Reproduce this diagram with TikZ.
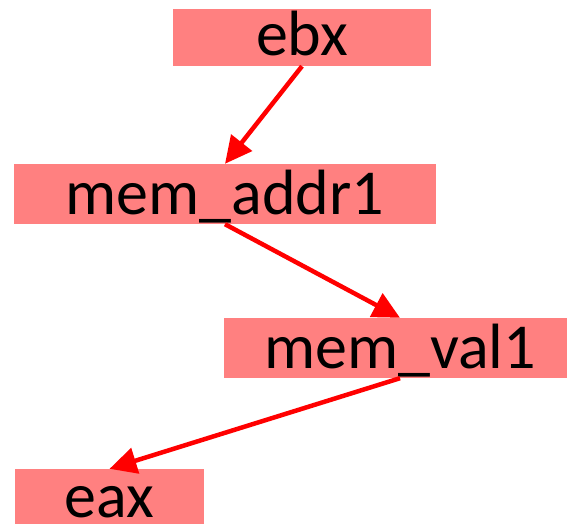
\documentclass[tikz,border=0pt]{standalone}
\usepackage{fontspec}
\setmainfont{Carlito}
\usetikzlibrary{arrows.meta}
\definecolor{boxfill}{RGB}{255,128,128}
\definecolor{flow}{RGB}{255,0,0}
\tikzset{
  reg/.style={fill=boxfill, inner sep=0pt, text depth=10pt,
    font=\fontsize{64}{64}\selectfont},
  flowarrow/.style={draw=flow, line width=4.5pt,
    -{Triangle[length=27pt,width=26pt]}}
}
\begin{document}
\begin{tikzpicture}[x=1pt,y=-1pt]
  \clip (0,0) rectangle (567,524);
  % register / memory value boxes
  \node[reg, minimum width=258pt, text height=47pt] (ebx)   at (302,37.5) {ebx};
  \node[reg, minimum width=422pt, text height=50pt] (addr)  at (225,194)  {mem\_addr1};
  \node[reg, minimum width=352pt, text height=50pt] (val)   at (400,348)  {mem\_val1};
  \node[reg, minimum width=189pt, text height=48pt] (eax)   at (109.5,498) {eax};
  % data flow
  \draw[flowarrow] (ebx.south)  -- (addr.north);
  \draw[flowarrow] (addr.south) -- (val.north);
  \draw[flowarrow] (val.south)  -- (eax.north);
\end{tikzpicture}
\end{document}
